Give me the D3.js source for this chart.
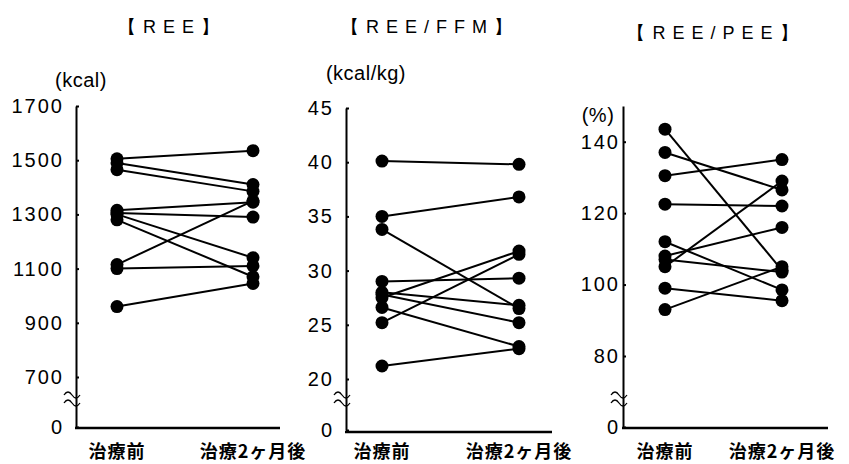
<!DOCTYPE html>
<meta charset="utf-8">
<style>
body { margin: 0; background: #fff; }
.tick text { font: 20px "Liberation Sans", Arial, sans-serif; letter-spacing: 2px; fill: #000; }
.unit { font: 20px "Liberation Sans", Arial, sans-serif; letter-spacing: 0.5px; }
.title { font: 18px "Liberation Sans", Arial, sans-serif; letter-spacing: 7px; }
.cat { font: bold 18px "Noto Sans CJK JP", sans-serif; letter-spacing: 1px; }
</style>
<body>
<script src="https://cdn.jsdelivr.net/npm/d3@7"></script>
<script>

// data
var categories = ["治療前", "治療2ヶ月後"];

var reePre  = [1505, 1490, 1465, 1315, 1305, 1300, 1280, 1115, 1100, 960];
var reePost = [1535, 1410, 1385, 1345, 1290, 1140, 1070, 1350, 1110, 1045];

var ffmPre  = [40.1, 35.0, 33.8, 29.0, 28.0, 27.8, 27.5, 26.6, 25.2, 21.2];
var ffmPost = [39.8, 36.8, 26.5, 29.3, 26.8, 25.2, 31.8, 23.0, 31.5, 22.8];

var peePre  = [143.5, 137, 130.5, 122.5, 112, 108, 107, 105, 99, 93];
var peePost = [104, 126.5, 135, 122, 98.5, 116, 103.5, 129, 95.5, 105];

var reeTicks = [0, 700, 900, 1100, 1300, 1500, 1700];
var ffmTicks = [0, 20, 25, 30, 35, 40, 45];
var peeTicks = [0, 80, 100, 120, 140];

// layout of the three panels
var panels = [
  {title: "【REE】", tx: 172, ty: 33, unit: "(kcal)", ux: 81, uy: 87,
   pre: reePre, post: reePost, ticks: reeTicks,
   dom: [0, 700, 1700], rng: [427, 377, 106],
   ax: 76, xEnd: 280, xAxisY: 428, xr: [117, 253], pad: 12},
  {title: "【REE/FFM】", tx: 430, ty: 33, unit: "(kcal/kg)", ux: 366, uy: 80,
   pre: ffmPre, post: ffmPost, ticks: ffmTicks,
   dom: [0, 20, 45], rng: [430, 379, 108],
   ax: 346, xEnd: 552, xAxisY: 432, xr: [382, 519], pad: 12},
  {title: "【REE/PEE】", tx: 716, ty: 39, unit: "(%)", ux: 598, uy: 122,
   pre: peePre, post: peePost, ticks: peeTicks,
   dom: [0, 80, 150], rng: [427, 356, 106],
   ax: 623, xEnd: 828, xAxisY: 428, xr: [665, 782], pad: 3}
];

var svg = d3.select("body").append("svg")
    .attr("width", 849)
    .attr("height", 464);

panels.forEach(function(p) {
  var y = d3.scaleLinear().domain(p.dom).range(p.rng);
  var x = d3.scalePoint().domain(categories).range(p.xr);
  var g = svg.append("g");

  // title
  g.append("text")
      .attr("class", "title")
      .attr("x", p.tx)
      .attr("y", p.ty)
      .attr("text-anchor", "middle")
      .text(p.title);

  // unit label
  g.append("text")
      .attr("class", "unit")
      .attr("x", p.ux)
      .attr("y", p.uy)
      .attr("text-anchor", "middle")
      .text(p.unit);

  // y axis
  var yAxis = g.append("g")
      .attr("transform", "translate(" + p.ax + ",0)")
      .call(d3.axisLeft(y)
          .tickValues(p.ticks)
          .tickFormat(d3.format("d"))
          .tickSizeInner(-3)
          .tickSizeOuter(0)
          .tickPadding(p.pad));
  yAxis.select(".domain").attr("stroke", "#000").attr("stroke-width", 2);
  yAxis.selectAll(".tick line").attr("stroke", "#000").attr("stroke-width", 2);

  // x axis line
  g.append("line")
      .attr("x1", p.ax - 1)
      .attr("x2", p.xEnd)
      .attr("y1", p.xAxisY)
      .attr("y2", p.xAxisY)
      .attr("stroke", "#000")
      .attr("stroke-width", 2.5);

  // break mark
  [-4, 4].forEach(function(dy) {
    g.append("path")
        .attr("d", "M" + (p.ax - 12) + "," + (397 + dy + 2) +
              " q4,-6 8,0 t8,0")
        .attr("fill", "none")
        .attr("stroke", "#000")
        .attr("stroke-width", 1.3);
  });

  // category labels
  g.selectAll(".cat")
      .data(categories)
    .enter().append("text")
      .attr("class", "cat")
      .attr("x", function(d) { return x(d); })
      .attr("y", 458)
      .attr("text-anchor", "middle")
      .text(function(d) { return d; });

  var pairs = p.pre.map(function(v, i) { return [v, p.post[i]]; });

  // connecting lines
  g.selectAll(".pair")
      .data(pairs)
    .enter().append("line")
      .attr("x1", x(categories[0]))
      .attr("x2", x(categories[1]))
      .attr("y1", function(d) { return y(d[0]); })
      .attr("y2", function(d) { return y(d[1]); })
      .attr("stroke", "#000")
      .attr("stroke-width", 2);

  // dots
  [0, 1].forEach(function(k) {
    g.selectAll(".dot" + k)
        .data(pairs)
      .enter().append("circle")
        .attr("cx", x(categories[k]))
        .attr("cy", function(d) { return y(d[k]); })
        .attr("r", 6.5)
        .attr("fill", "#000");
  });
});

</script>
</body>
